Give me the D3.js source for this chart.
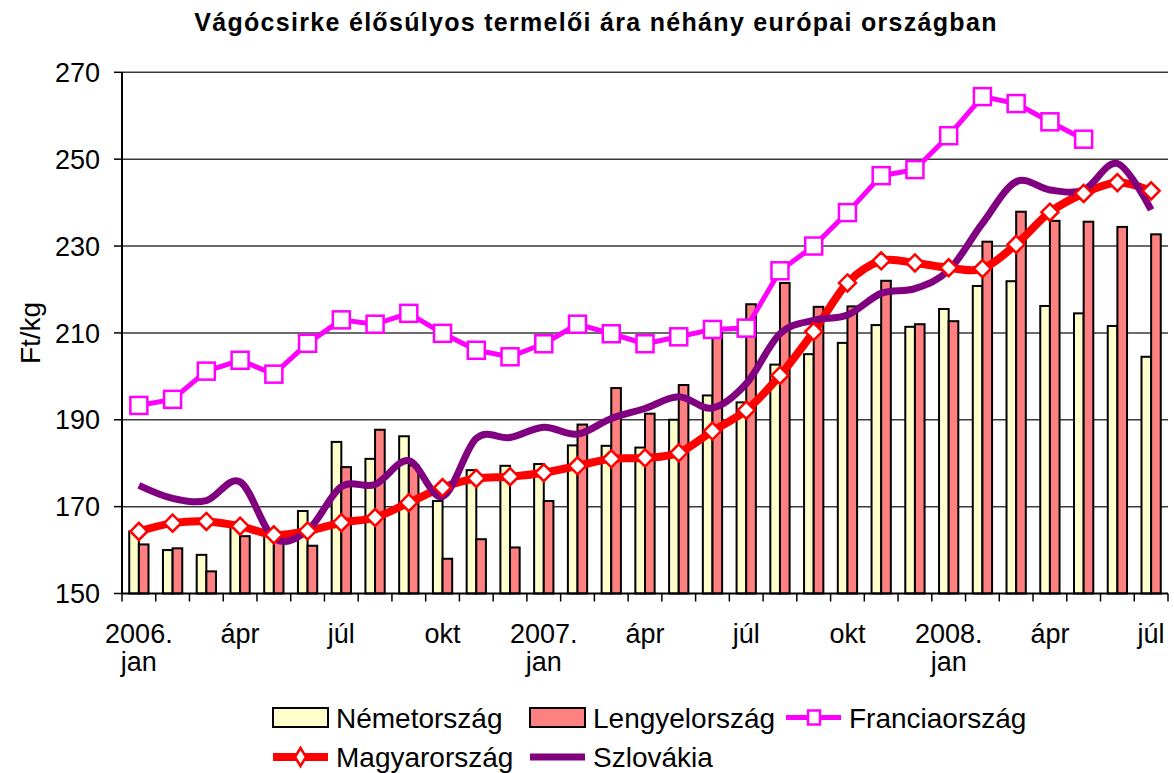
<!DOCTYPE html>
<html>
  <head>
    <meta charset="UTF-8">
    <title>Vágócsirke</title>
    <script src="https://d3js.org/d3.v7.min.js"></script>
    <style>
      body { margin: 0; background: #fff; }
      text { font-family: "Liberation Sans", Arial, sans-serif; fill: #000; }
    </style>
  </head>
  <body>
    <div id="chart-container"></div>
  <script type="text/javascript">

    // Months, 2006 jan .. 2008 jul
    const categories = [
        "2006. jan", "febr", "márc", "ápr", "máj", "jún", "júl", "aug", "szept", "okt", "nov", "dec",
        "2007. jan", "febr", "márc", "ápr", "máj", "jún", "júl", "aug", "szept", "okt", "nov", "dec",
        "2008. jan", "febr", "márc", "ápr", "máj", "jún", "júl"
    ];
    // only every third month is labelled on the axis
    const tickEvery = 3;
    const yTicks = [150, 170, 190, 210, 230, 250, 270];

    const nemetorszag = [164.3, 160, 158.9, 165.3, 163.8, 169, 184.9, 181, 186.2, 171.3, 178.4, 179.4,
        179.8, 184.1, 184, 183.6, 190, 195.6, 194, 202.7, 205.1, 207.7, 211.8, 211.4,
        215.5, 220.8, 221.9, 216.2, 214.5, 211.6, 204.5];
    const lengyelorszag = [161.3, 160.4, 155.1, 163.2, 162.2, 161, 179.1, 187.7, 179.5, 158, 162.5, 160.6,
        171.3, 188.9, 197.3, 191.4, 198, 210, 216.6, 221.5, 216, 216.1, 222, 212,
        212.7, 231, 237.9, 235.8, 235.6, 234.4, 232.7];
    const franciaorszag = [193.3, 194.7, 201.2, 203.7, 200.5, 207.6, 213, 212, 214.5, 209.9, 206, 204.5,
        207.5, 212, 209.8, 207.5, 209.1, 210.8, 211.1, 224.3, 230, 237.7, 246.2, 247.6,
        255.4, 264.4, 262.8, 258.6, 254.6];
    const magyarorszag = [164.3, 166.2, 166.6, 165.5, 163.5, 164.4, 166.3, 167.5, 170.9, 174.4, 176.5, 176.9,
        177.8, 179.4, 181, 181.2, 182.4, 187.4, 192.2, 200.2, 210.3, 221.5, 226.6, 226.1,
        225, 224.8, 230.4, 237.8, 242.1, 244.6, 242.7];
    const szlovakia = [174.9, 171.9, 171.4, 175.7, 162.8, 164.5, 174.6, 175.1, 180.6, 172.3, 185.7, 185.9,
        188.3, 186.7, 190.3, 192.6, 195.3, 192.7, 198.3, 209.8, 212.9, 214.1, 219.1, 220.2,
        224.4, 235.2, 244.8, 242.9, 242.9, 249, 238.3];

    const width = 1174;
    const height = 773;
    const margin = ({top: 72.3, right: 6, bottom: 179.5, left: 122});

    const svg = d3.select("#chart-container")
        .append("svg")
        .attr("width", width)
        .attr("height", height);

    // X: one band per month, bars inside it with an Excel style gap of 150%
    const x = d3.scaleBand()
        .domain(d3.range(categories.length))
        .range([margin.left, width - margin.right]);

    const xSub = d3.scaleBand()
        .domain(["n", "l"])
        .range([0, x.bandwidth()])
        .paddingInner(0)
        .paddingOuter(0.75);

    const y = d3.scaleLinear()
        .domain([150, 270])
        .range([height - margin.bottom, margin.top]);

    const cx = i => x(i) + x.bandwidth() / 2;

    // gridlines
    svg.append("g")
        .selectAll("line")
        .data(yTicks.slice(1))
        .join("line")
        .attr("x1", margin.left)
        .attr("x2", width - margin.right)
        .attr("y1", d => y(d))
        .attr("y2", d => y(d))
        .attr("stroke", "#3a3a3a")
        .attr("stroke-width", 1.5);

    // bars
    const barSeries = [
        {key: "n", values: nemetorszag, fill: "#FFFFCC"},
        {key: "l", values: lengyelorszag, fill: "#FF8080"}
    ];
    barSeries.forEach(s => {
        svg.append("g")
            .selectAll("rect")
            .data(s.values)
            .join("rect")
            .attr("x", (d, i) => x(i) + xSub(s.key))
            .attr("width", xSub.bandwidth())
            .attr("y", d => y(d))
            .attr("height", d => y(150) - y(d))
            .attr("fill", s.fill)
            .attr("stroke", "#000")
            .attr("stroke-width", 2);
    });

    // lines
    const straight = d3.line().x((d, i) => cx(i)).y(d => y(d));
    const smooth = d3.line().x((d, i) => cx(i)).y(d => y(d)).curve(d3.curveCardinal.tension(0));

    svg.append("path")
        .attr("d", straight(franciaorszag))
        .attr("fill", "none")
        .attr("stroke", "#FF00FF")
        .attr("stroke-width", 5)
        .attr("stroke-linejoin", "round");

    svg.append("path")
        .attr("d", smooth(magyarorszag))
        .attr("fill", "none")
        .attr("stroke", "#FF0000")
        .attr("stroke-width", 8)
        .attr("stroke-linejoin", "round");

    svg.append("path")
        .attr("d", smooth(szlovakia))
        .attr("fill", "none")
        .attr("stroke", "#800080")
        .attr("stroke-width", 7)
        .attr("stroke-linejoin", "round");

    // markers
    const sq = 17;
    svg.append("g")
        .selectAll("rect")
        .data(franciaorszag)
        .join("rect")
        .attr("x", (d, i) => cx(i) - sq / 2)
        .attr("y", d => y(d) - sq / 2)
        .attr("width", sq)
        .attr("height", sq)
        .attr("fill", "#fff")
        .attr("stroke", "#FF00FF")
        .attr("stroke-width", 2.5);

    const dm = 8.5;
    const diamond = `M0,${-dm}L${dm},0L0,${dm}L${-dm},0Z`;
    svg.append("g")
        .selectAll("path")
        .data(magyarorszag)
        .join("path")
        .attr("d", diamond)
        .attr("transform", (d, i) => `translate(${cx(i)},${y(d)})`)
        .attr("fill", "#fff")
        .attr("stroke", "#FF0000")
        .attr("stroke-width", 2.5);

    // Y axis
    const yAxis = svg.append("g");
    yAxis.append("line")
        .attr("x1", margin.left).attr("x2", margin.left)
        .attr("y1", y(270)).attr("y2", y(150))
        .attr("stroke", "#000").attr("stroke-width", 2);
    yAxis.selectAll("line.tick")
        .data(yTicks)
        .join("line")
        .attr("class", "tick")
        .attr("x1", margin.left - 8).attr("x2", margin.left)
        .attr("y1", d => y(d)).attr("y2", d => y(d))
        .attr("stroke", "#000").attr("stroke-width", 1.5);
    yAxis.selectAll("text")
        .data(yTicks)
        .join("text")
        .attr("x", 100)
        .attr("y", d => y(d) + 9.7)
        .attr("text-anchor", "end")
        .attr("font-size", 27)
        .text(d => d);

    // X axis
    const xAxis = svg.append("g");
    xAxis.append("line")
        .attr("x1", margin.left).attr("x2", width - margin.right)
        .attr("y1", y(150)).attr("y2", y(150))
        .attr("stroke", "#000").attr("stroke-width", 2);
    xAxis.selectAll("line.tick")
        .data(d3.range(categories.length + 1))
        .join("line")
        .attr("class", "tick")
        .attr("x1", i => i < categories.length ? x(i) : x.range()[1])
        .attr("x2", i => i < categories.length ? x(i) : x.range()[1])
        .attr("y1", y(150)).attr("y2", y(150) + 8)
        .attr("stroke", "#000").attr("stroke-width", 1.5);
    const labelled = d3.range(categories.length).filter(i => i % tickEvery === 0);
    const xl = xAxis.selectAll("text")
        .data(labelled)
        .join("text")
        .attr("text-anchor", "middle")
        .attr("font-size", 27);
    xl.each(function(i) {
        const parts = categories[i].split(" ");
        d3.select(this).selectAll("tspan")
            .data(parts)
            .join("tspan")
            .attr("x", cx(i))
            .attr("y", (p, k) => 643 + k * 28)
            .text(p => p);
    });

    // Y title
    svg.append("text")
        .attr("transform", "translate(40,333) rotate(-90)")
        .attr("text-anchor", "middle")
        .attr("font-size", 28)
        .text("Ft/kg");

    // Title
    svg.append("text")
        .attr("x", 596)
        .attr("y", 31)
        .attr("text-anchor", "middle")
        .attr("font-size", 25)
        .attr("font-weight", "bold")
        .attr("letter-spacing", 1.3)
        .text("Vágócsirke élősúlyos termelői ára néhány európai országban");

    // Legend
    const legend = svg.append("g").attr("font-size", 28);
    const legendItems = [
        {name: "Németország", type: "bar", fill: "#FFFFCC", x: 273, y: 717.5},
        {name: "Lengyelország", type: "bar", fill: "#FF8080", x: 530, y: 717.5},
        {name: "Franciaország", type: "square", stroke: "#FF00FF", x: 786, y: 717.5},
        {name: "Magyarország", type: "diamond", stroke: "#FF0000", x: 273, y: 757},
        {name: "Szlovákia", type: "line", stroke: "#800080", x: 530, y: 757}
    ];
    legendItems.forEach(it => {
        const g = legend.append("g").attr("transform", `translate(${it.x},${it.y})`);
        if (it.type === "bar") {
            g.append("rect").attr("x", 0).attr("y", -9.5).attr("width", 55).attr("height", 19)
                .attr("fill", it.fill).attr("stroke", "#000").attr("stroke-width", 2);
        } else {
            g.append("line").attr("x1", 0).attr("x2", 55).attr("y1", 0).attr("y2", 0)
                .attr("stroke", it.stroke)
                .attr("stroke-width", it.type === "square" ? 5 : (it.type === "diamond" ? 8 : 7));
            if (it.type === "square") {
                g.append("rect").attr("x", 22).attr("y", -7).attr("width", 12).attr("height", 14)
                    .attr("fill", "#fff").attr("stroke", it.stroke).attr("stroke-width", 2.5);
            }
            if (it.type === "diamond") {
                g.append("path").attr("d", "M27.5,-9L33,0L27.5,9L22,0Z")
                    .attr("fill", "#fff").attr("stroke", it.stroke).attr("stroke-width", 2.5);
            }
        }
        g.append("text").attr("x", 63).attr("y", 10).text(it.name);
    });
  </script>
  </body>
</html>
